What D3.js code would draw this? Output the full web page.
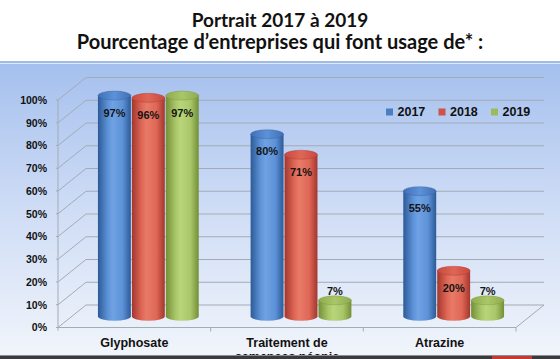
<!DOCTYPE html>
<html><head><meta charset="utf-8">
<script src="https://cdn.jsdelivr.net/npm/d3@7"></script>
<style>html,body{margin:0;padding:0;background:#fff;}svg{display:block;}</style>
</head><body>
<svg id="chart" width="560" height="359"></svg>
<script>
const titleLines = ["Portrait 2017 à 2019", "Pourcentage d\u2019entreprises qui font usage de* :"];
const categories = ["Glyphosate", "Traitement de semences néonic", "Atrazine"];
const categoryLabelLines = [["Glyphosate"], ["Traitement de", "semences néonic"], ["Atrazine"]];
const years = ["2017", "2018", "2019"];
const values2017 = [97, 80, 55];
const values2018 = [96, 71, 20];
const values2019 = [97, 7, 7];
const yTicks = [0, 10, 20, 30, 40, 50, 60, 70, 80, 90, 100];

const seriesValues = [values2017, values2018, values2019];
const colors = {
  "2017": {dark: "#2c5a97", mid: "#5d92d8", light: "#6fa2e3", top: "#3f70b6", legend: "#4a7ebf"},
  "2018": {dark: "#a3362d", mid: "#df6756", light: "#e87a68", top: "#c9483f", legend: "#cf5147"},
  "2019": {dark: "#738f37", mid: "#a9c769", light: "#b8d57a", top: "#8eab4e", legend: "#9bbb59"}
};

const svg = d3.select("#chart");
const defs = svg.append("defs");

// background
const bg = defs.append("linearGradient").attr("id", "bg").attr("x1", 0).attr("y1", 0).attr("x2", 0).attr("y2", 1);
bg.append("stop").attr("offset", 0).attr("stop-color", "#a5c0ee");
bg.append("stop").attr("offset", 0.45).attr("stop-color", "#cbdaf5");
bg.append("stop").attr("offset", 1).attr("stop-color", "#f1f5fb");
svg.append("rect").attr("x", 0).attr("y", 0).attr("width", 560).attr("height", 359).attr("fill", "#ffffff");
svg.append("rect").attr("x", 0).attr("y", 61).attr("width", 560).attr("height", 2).attr("fill", "#9fbbe9");
svg.append("rect").attr("x", 0).attr("y", 63).attr("width", 560).attr("height", 1).attr("fill", "#dfe8f7");
svg.append("rect").attr("x", 0).attr("y", 64).attr("width", 560).attr("height", 292).attr("fill", "url(#bg)");

// title
const titleSizes = [19, 20];
svg.append("g").selectAll("text").data(titleLines).join("text")
  .attr("x", 280).attr("y", (d, i) => i === 0 ? 27 : 49)
  .attr("text-anchor", "middle")
  .attr("font-family", "Lato, 'Open Sans', sans-serif")
  .attr("font-weight", "bold").attr("font-size", (d, i) => titleSizes[i]).attr("fill", "#111")
  .text(d => d);

// geometry
const front = {x0: 58, x1: 516};
const y = d3.scaleLinear().domain([0, 100]).range([327.5, 100]);
const depth = {dx: 28, dy: -22.5};
const x0 = d3.scaleBand().domain(categories).range([front.x0, front.x1]);
const bw = x0.bandwidth();
const x1 = d3.scaleBand().domain(years).range([bw / 6, bw * 5 / 6]);

const grid = svg.append("g").attr("stroke", "#a3abb5").attr("stroke-width", 1).attr("fill", "none");
yTicks.forEach(t => {
  const yf = y(t), yb = y(t) + depth.dy;
  grid.append("path").attr("d", `M${front.x0 - 2},${yf}L${front.x0},${yf}L${front.x0 + depth.dx},${yb}L${front.x1 + depth.dx},${yb}`);
});
grid.append("line").attr("x1", front.x0).attr("x2", front.x0).attr("y1", y(100)).attr("y2", y(0) + 3);
grid.append("path").attr("d", `M${front.x0},${y(0)}L${front.x1},${y(0)}L${front.x1 + depth.dx},${y(0) + depth.dy}`);
categories.forEach((c, i) => {
  const xb = x0(c) + bw;
  grid.append("line").attr("x1", xb).attr("x2", xb).attr("y1", y(0)).attr("y2", y(0) + 4);
});

// y labels
svg.append("g").selectAll("text").data(yTicks).join("text")
  .attr("x", 47).attr("y", d => y(d)).attr("dy", "0.36em")
  .attr("text-anchor", "end")
  .attr("font-family", "'Liberation Sans', Arial, sans-serif")
  .attr("font-weight", "bold").attr("font-size", 10.5).attr("fill", "#111")
  .text(d => d + "%");

// cylinder gradients
years.forEach(yr => {
  const c = colors[yr];
  const g = defs.append("linearGradient").attr("id", "body" + yr).attr("x1", 0).attr("x2", 1).attr("y1", 0).attr("y2", 0);
  g.append("stop").attr("offset", 0).attr("stop-color", c.dark);
  g.append("stop").attr("offset", 0.3).attr("stop-color", c.mid);
  g.append("stop").attr("offset", 0.45).attr("stop-color", c.light);
  g.append("stop").attr("offset", 0.75).attr("stop-color", c.mid);
  g.append("stop").attr("offset", 1).attr("stop-color", c.dark);
  const t = defs.append("linearGradient").attr("id", "top" + yr).attr("x1", 0).attr("x2", 1).attr("y1", 0).attr("y2", 0);
  t.append("stop").attr("offset", 0).attr("stop-color", c.top);
  t.append("stop").attr("offset", 0.5).attr("stop-color", c.mid);
  t.append("stop").attr("offset", 1).attr("stop-color", c.top);
});

const bars = [];
categories.forEach((cat, ci) => {
  years.forEach((yr, si) => {
    bars.push({cat, yr, v: seriesValues[si][ci]});
  });
});

const ry = 4.5;
const barG = svg.append("g");
bars.forEach(b => {
  const w = x1.bandwidth() - 1;
  const cx = x0(b.cat) + x1(b.yr) + x1.bandwidth() / 2 + depth.dx / 2;
  const yb = y(0) + depth.dy / 2;
  const yt = y(b.v) + depth.dy / 2;
  const rx = w / 2;
  barG.append("path")
    .attr("d", `M${cx - rx},${yt}L${cx - rx},${yb}A${rx},${ry} 0 0 0 ${cx + rx},${yb}L${cx + rx},${yt}Z`)
    .attr("fill", `url(#body${b.yr})`);
  barG.append("ellipse").attr("cx", cx).attr("cy", yt).attr("rx", rx).attr("ry", ry)
    .attr("fill", `url(#top${b.yr})`).attr("stroke", colors[b.yr].dark).attr("stroke-width", 0.6).attr("stroke-opacity", 0.6);
  barG.append("text")
    .attr("x", cx).attr("y", b.v < 10 ? yt - 5 : yt + 21)
    .attr("text-anchor", "middle")
    .attr("font-family", "'Liberation Sans', Arial, sans-serif")
    .attr("font-weight", "bold").attr("font-size", 11).attr("fill", "#141414")
    .text(b.v + "%");
});

// category labels
categories.forEach((cat, i) => {
  svg.append("text")
    .attr("x", x0(cat) + bw / 2).attr("y", 347)
    .attr("text-anchor", "middle")
    .attr("font-family", "'Liberation Sans', Arial, sans-serif")
    .attr("font-weight", "bold").attr("font-size", 12.5).attr("fill", "#111")
    .selectAll("tspan").data(categoryLabelLines[i]).join("tspan")
    .attr("x", x0(cat) + bw / 2).attr("dy", (d, j) => j === 0 ? 0 : 14)
    .text(d => d);
});

// legend
const legendX = [386, 438.5, 491];
const lg = svg.append("g");
years.forEach((yr, i) => {
  lg.append("rect").attr("x", legendX[i]).attr("y", 108.5).attr("width", 7).attr("height", 7).attr("fill", colors[yr].legend);
  lg.append("text").attr("x", legendX[i] + 11.5).attr("y", 115.5)
    .attr("font-family", "'Liberation Sans', Arial, sans-serif")
    .attr("font-weight", "bold").attr("font-size", 12.5).attr("fill", "#111")
    .text(yr);
});

// bottom strip
svg.append("rect").attr("x", 0).attr("y", 355).attr("width", 560).attr("height", 1).attr("fill", "#8a8d92");
svg.append("rect").attr("x", 0).attr("y", 356).attr("width", 560).attr("height", 3).attr("fill", "#3b3b3d");
svg.append("rect").attr("x", 492).attr("y", 356).attr("width", 40).attr("height", 3).attr("fill", "#c63a36");
</script>
</body></html>
